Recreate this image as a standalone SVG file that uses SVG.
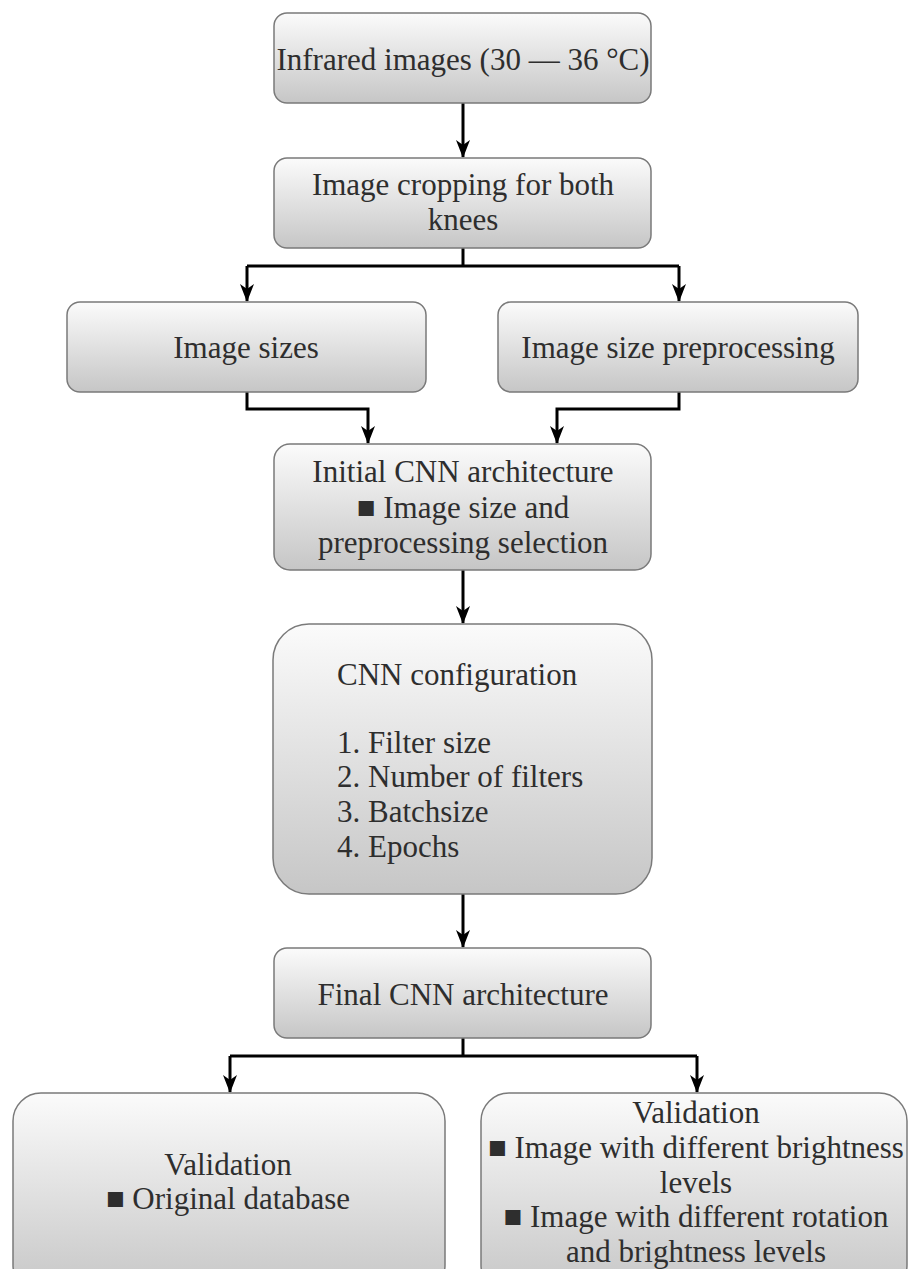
<svg xmlns="http://www.w3.org/2000/svg" width="909" height="1269" viewBox="0 0 909 1269">
<defs>
<linearGradient id="g" x1="0" y1="0" x2="0" y2="1">
<stop offset="0" stop-color="#fbfbfb"/>
<stop offset="1" stop-color="#c6c6c6"/>
</linearGradient>
<marker id="ah" viewBox="0 0 18 14" refX="17" refY="7" markerWidth="18" markerHeight="14" markerUnits="userSpaceOnUse" orient="auto">
<path d="M0,0 L18,7 L0,14 L5,7 z" fill="#000"/>
</marker>
</defs>
<style>
.box{fill:url(#g);stroke:#7a7a7a;stroke-width:1.5}
.t{font-family:"Liberation Serif","Times New Roman",serif;font-size:31px;fill:#2e2e2e;text-anchor:middle}
.tl{font-family:"Liberation Serif","Times New Roman",serif;font-size:31px;fill:#2e2e2e}
.c{fill:none;stroke:#000;stroke-width:3}
</style>
<rect width="909" height="1269" fill="#fff"/>
<g id="connectors">
<path class="c" d="M463,103 V157" marker-end="url(#ah)"/>
<path class="c" d="M463,248 V266"/>
<path class="c" d="M247,266 H679"/>
<path class="c" d="M247,266 V301" marker-end="url(#ah)"/>
<path class="c" d="M679,266 V301" marker-end="url(#ah)"/>
<path class="c" d="M247,392 V409 H368 V443" marker-end="url(#ah)"/>
<path class="c" d="M679,392 V409 H557 V443" marker-end="url(#ah)"/>
<path class="c" d="M463,570 V623" marker-end="url(#ah)"/>
<path class="c" d="M463,894 V947" marker-end="url(#ah)"/>
<path class="c" d="M463,1038 V1056"/>
<path class="c" d="M230,1056 H697"/>
<path class="c" d="M230,1056 V1092" marker-end="url(#ah)"/>
<path class="c" d="M697,1056 V1092" marker-end="url(#ah)"/>
</g>
<g id="n1">
<rect class="box" x="274" y="13" width="377" height="90" rx="13"/>
<text class="t" x="463" y="70">Infrared images (30 — 36 °C)</text>
</g>
<g id="n2">
<rect class="box" x="274" y="158" width="377" height="90" rx="13"/>
<text class="t" x="463" y="195">Image cropping for both</text>
<text class="t" x="463" y="230">knees</text>
</g>
<g id="n3">
<rect class="box" x="67" y="302" width="359" height="90" rx="13"/>
<text class="t" x="246" y="358">Image sizes</text>
</g>
<g id="n4">
<rect class="box" x="498" y="302" width="360" height="90" rx="13"/>
<text class="t" x="678" y="358">Image size preprocessing</text>
</g>
<g id="n5">
<rect class="box" x="274" y="444" width="377" height="126" rx="16"/>
<text class="t" x="463" y="482">Initial CNN architecture</text>
<text class="t" x="463" y="518">■ Image size and</text>
<text class="t" x="463" y="553">preprocessing selection</text>
</g>
<g id="n6">
<rect class="box" x="273" y="624" width="379" height="270" rx="36"/>
<text class="tl" x="337" y="685">CNN configuration</text>
<text class="tl" x="337" y="753">1. Filter size</text>
<text class="tl" x="337" y="787">2. Number of filters</text>
<text class="tl" x="337" y="822">3. Batchsize</text>
<text class="tl" x="337" y="857">4. Epochs</text>
</g>
<g id="n7">
<rect class="box" x="274" y="948" width="377" height="90" rx="13"/>
<text class="t" x="463" y="1005">Final CNN architecture</text>
</g>
<g id="n8">
<rect class="box" x="13" y="1093" width="432" height="200" rx="28"/>
<text class="t" x="228" y="1175">Validation</text>
<text class="t" x="228" y="1209">■ Original database</text>
</g>
<g id="n9">
<rect class="box" x="481" y="1093" width="426" height="200" rx="28"/>
<text class="t" x="696" y="1123">Validation</text>
<text class="t" x="696" y="1158">■ Image with different brightness</text>
<text class="t" x="696" y="1193">levels</text>
<text class="t" x="696" y="1227">■ Image with different rotation</text>
<text class="t" x="696" y="1262">and brightness levels</text>
</g>
</svg>
